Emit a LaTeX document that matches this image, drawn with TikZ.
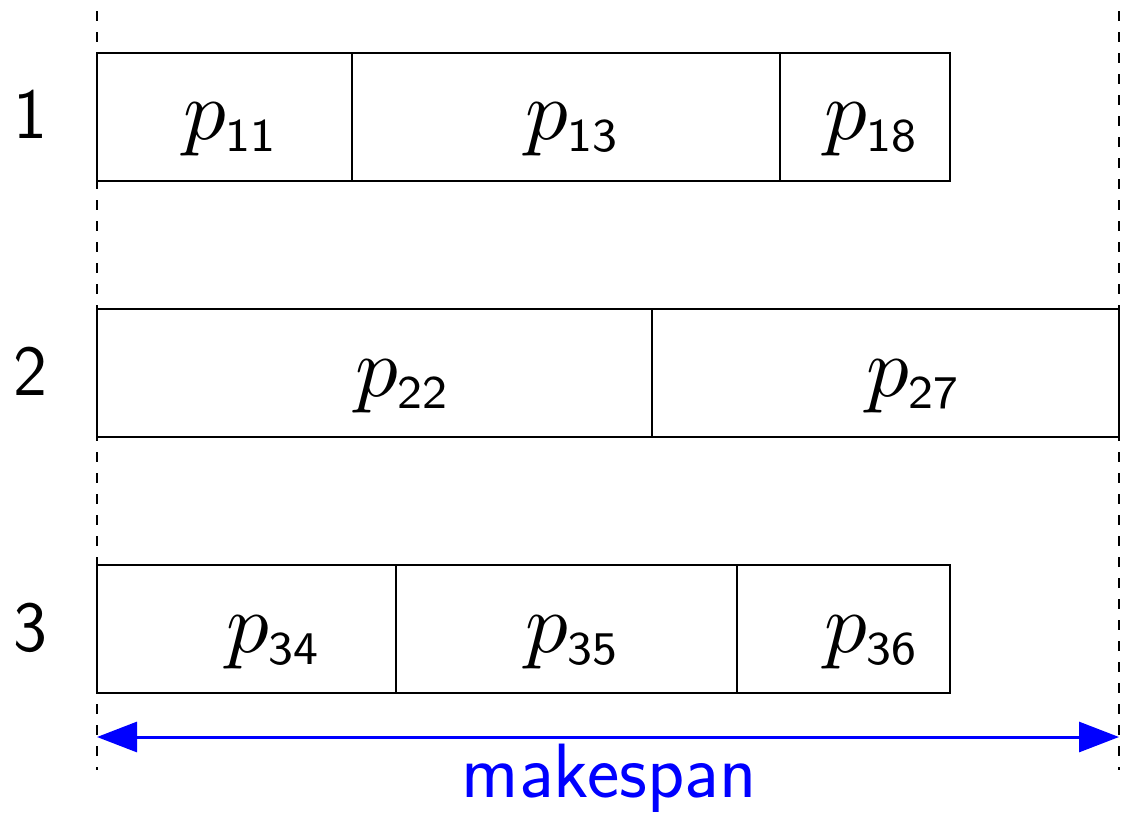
\documentclass[tikz,border=0pt]{standalone}
\usetikzlibrary{arrows.meta}
\newcommand\pjob[1]{\scalebox{8.5}{$p$}\raisebox{-12pt}{\scalebox{9}{\fontsize{5.2}{6}\selectfont\sffamily #1}}}
\begin{document}
\begin{tikzpicture}[x=1pt,y=-1pt,
  job/.style={draw=black,line width=2.8pt},
  lbl/.style={inner sep=0pt,anchor=base west},
  rowlbl/.style={inner sep=0pt,anchor=base,font=\fontsize{72}{86}\selectfont\sffamily},
  guide/.style={draw=black,line width=2.8pt,dash pattern=on 10pt off 11pt},
  span/.style={draw=blue,line width=3pt,{Triangle[length=40pt,width=30pt]}-{Triangle[length=40pt,width=30pt]}}
]
\useasboundingbox (0,0) rectangle (1121,812);
% dashed guides
\coordinate (gl1) at (97,11);
\coordinate (gl2) at (97,770);
\coordinate (gr1) at (1119,11);
\coordinate (gr2) at (1119,770);
\draw[guide] (gl1) -- (gl2);
\draw[guide] (gr1) -- (gr2);
% row 1
\draw[job] (97,53) rectangle (352,181);
\draw[job] (352,53) rectangle (780,181);
\draw[job] (780,53) rectangle (950,181);
% row 2
\draw[job] (97,309) rectangle (652,437);
\draw[job] (652,309) rectangle (1119,437);
% row 3
\draw[job] (97,565) rectangle (396,693);
\draw[job] (396,565) rectangle (737,693);
\draw[job] (737,565) rectangle (950,693);
% labels
\node[lbl] (p11) at (183,139) {\pjob{11}};
\node[lbl] (p13) at (525,139) {\pjob{13}};
\node[lbl] (p18) at (824,139) {\pjob{18}};
\node[lbl] (p22) at (355,396) {\pjob{22}};
\node[lbl] (p27) at (866,396) {\pjob{27}};
\node[lbl] (p34) at (226,652) {\pjob{34}};
\node[lbl] (p35) at (525,652) {\pjob{35}};
\node[lbl] (p36) at (824,652) {\pjob{36}};
\node[rowlbl] (r1) at (30.5,138) {1};
\node[rowlbl] (r2) at (30.5,395) {2};
\node[rowlbl] (r3) at (30.5,651) {3};
% makespan
\coordinate (ma) at (97,737);
\coordinate (mb) at (1119,737);
\draw[span] (ma) -- (mb);
\node[rowlbl,font=\fontsize{77}{90}\selectfont\sffamily,text=blue] (ms) at (609,797) {makespan};
\end{tikzpicture}
\end{document}
